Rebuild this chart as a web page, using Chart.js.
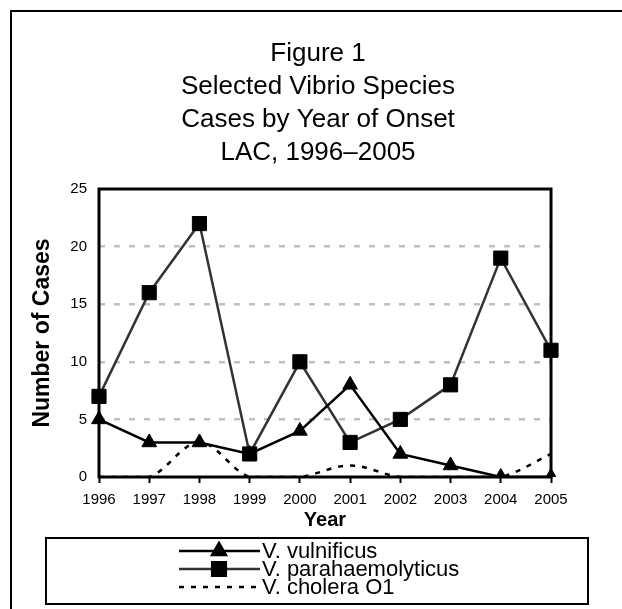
<!DOCTYPE html>
<html>
<head>
<meta charset="utf-8">
<script src="https://cdn.jsdelivr.net/npm/chart.js@4.4.1/dist/chart.umd.min.js"></script>
<style>
  html, body { margin: 0; padding: 0; background: #fff; }
  canvas { display: block; }
</style>
</head>
<body>
<canvas id="vibrioChart" width="622" height="609"></canvas>
<script>
const years = ["1996","1997","1998","1999","2000","2001","2002","2003","2004","2005"];
const vulnificus = [5, 3, 3, 2, 4, 8, 2, 1, 0, 0];
const parahaemolyticus = [7, 16, 22, 2, 10, 3, 5, 8, 19, 11];
const cholera = [0, 0, 3, 0, 0, 1, 0, 0, 0, 2];
const yTicks = [0, 5, 10, 15, 20, 25];
const seriesNames = ["V. vulnificus", "V. parahaemolyticus", "V. cholera O1"];
const titleLines = ["Figure 1", "Selected Vibrio Species", "Cases by Year of Onset", "LAC, 1996\u20132005"];
const xTitle = "Year";
const yTitle = "Number of Cases";

const FONT = "Arial, 'Liberation Sans', sans-serif";

// outer frame, titles, plot border and the boxed legend
const decorations = {
  id: "decorations",

  beforeDraw(chart) {
    const ctx = chart.ctx;
    ctx.save();
    ctx.fillStyle = "#fff";
    ctx.fillRect(0, 0, chart.width, chart.height);

    ctx.strokeStyle = "#000";
    ctx.lineWidth = 2;
    ctx.beginPath();
    ctx.moveTo(11, chart.height + 2);
    ctx.lineTo(11, 11);
    ctx.lineTo(chart.width + 2, 11);
    ctx.stroke();

    ctx.fillStyle = "#000";
    ctx.font = "26px " + FONT;
    ctx.textAlign = "center";
    ctx.textBaseline = "alphabetic";
    titleLines.forEach((line, i) => {
      ctx.fillText(line, 318, 61 + i * 33);
    });
    ctx.restore();
  },

  // frame goes over the lines so zero values sit hidden in the axis
  afterDatasetsDraw(chart) {
    const {ctx, chartArea} = chart;
    ctx.save();
    ctx.strokeStyle = "#000";
    ctx.lineWidth = 3;
    ctx.strokeRect(
      chartArea.left,
      chartArea.top,
      chartArea.right - chartArea.left,
      chartArea.bottom - chartArea.top
    );
    ctx.restore();
  },

  afterDraw(chart) {
    const {ctx, chartArea} = chart;
    ctx.save();
    ctx.fillStyle = "#000";

    // axis titles
    ctx.font = "bold 20px " + FONT;
    ctx.textAlign = "center";
    ctx.textBaseline = "middle";
    ctx.fillText(xTitle, (chartArea.left + chartArea.right) / 2, 520);

    ctx.save();
    ctx.translate(43, (chartArea.top + chartArea.bottom) / 2);
    ctx.rotate(-Math.PI / 2);
    ctx.font = "bold 23px " + FONT;
    ctx.fillText(yTitle, 0, 0);
    ctx.restore();

    // legend box
    ctx.strokeStyle = "#000";
    ctx.lineWidth = 2;
    ctx.strokeRect(46, 538, 542, 66);

    ctx.font = "22px " + FONT;
    ctx.textAlign = "left";
    ctx.textBaseline = "middle";
    chart.data.datasets.forEach((ds, i) => {
      const y = 551 + i * 18;
      ctx.save();
      ctx.strokeStyle = ds.borderColor;
      ctx.lineWidth = ds.borderWidth;
      ctx.setLineDash(ds.borderDash || []);
      ctx.beginPath();
      ctx.moveTo(179, y);
      ctx.lineTo(260, y);
      ctx.stroke();
      ctx.restore();
      if (ds.pointRadius > 0) {
        ctx.fillStyle = ds.pointBackgroundColor;
        ctx.strokeStyle = ds.pointBorderColor;
        Chart.helpers.drawPoint(ctx, {
          pointStyle: ds.pointStyle,
          radius: ds.pointRadius,
          rotation: 0,
          borderWidth: 1
        }, 219, y);
      }
      ctx.fillStyle = "#000";
      ctx.fillText(ds.label, 262, y + 1);
    });
    ctx.restore();
  }
};

new Chart(document.getElementById("vibrioChart"), {

  type: "line",

  data: {
    labels: years,
    datasets: [
      {
        label: seriesNames[0],
        data: vulnificus,
        borderColor: "#000",
        borderWidth: 2.5,
        pointStyle: "triangle",
        pointRadius: 8.5,
        pointBackgroundColor: "#000",
        pointBorderColor: "#000",
        pointBorderWidth: 1,
        tension: 0
      },
      {
        label: seriesNames[1],
        data: parahaemolyticus,
        borderColor: "#333",
        borderWidth: 2.5,
        pointStyle: "rect",
        pointRadius: 10,
        pointBackgroundColor: "#000",
        pointBorderColor: "#000",
        pointBorderWidth: 1,
        tension: 0
      },
      {
        label: seriesNames[2],
        data: cholera,
        borderColor: "#000",
        borderWidth: 2.5,
        borderDash: [5, 7],
        pointRadius: 0,
        tension: 0.35
      }
    ]
  },

  options: {
    responsive: false,
    animation: false,
    devicePixelRatio: 1,
    layout: {
      padding: { top: 189, left: 20, right: 71, bottom: 92 }
    },
    plugins: {
      legend: { display: false },
      title: { display: false },
      tooltip: { enabled: false }
    },
    scales: {
      x: {
        offset: false,
        afterFit(scale) { scale.height = 40; },
        border: { display: false },
        grid: {
          drawOnChartArea: false,
          drawTicks: true,
          tickLength: 6,
          tickWidth: 2,
          tickColor: "#000"
        },
        ticks: {
          color: "#000",
          padding: 8,
          maxRotation: 0,
          autoSkip: false,
          font: { family: FONT, size: 15 }
        }
      },
      y: {
        min: yTicks[0],
        max: yTicks[yTicks.length - 1],
        afterFit(scale) { scale.width = 79; },
        afterBuildTicks(scale) {
          scale.ticks = yTicks.map(v => ({ value: v }));
        },
        border: { display: false, dash: [6, 9] },
        grid: {
          drawTicks: false,
          lineWidth: 2.5,
          color: c => (c.tick && (c.tick.value === 0 || c.tick.value === 25))
            ? "rgba(0,0,0,0)" : "#c0c0c0"
        },
        ticks: {
          color: "#000",
          padding: 12,
          font: { family: FONT, size: 15 }
        }
      }
    }
  },

  plugins: [decorations]
});
</script>
</body>
</html>
